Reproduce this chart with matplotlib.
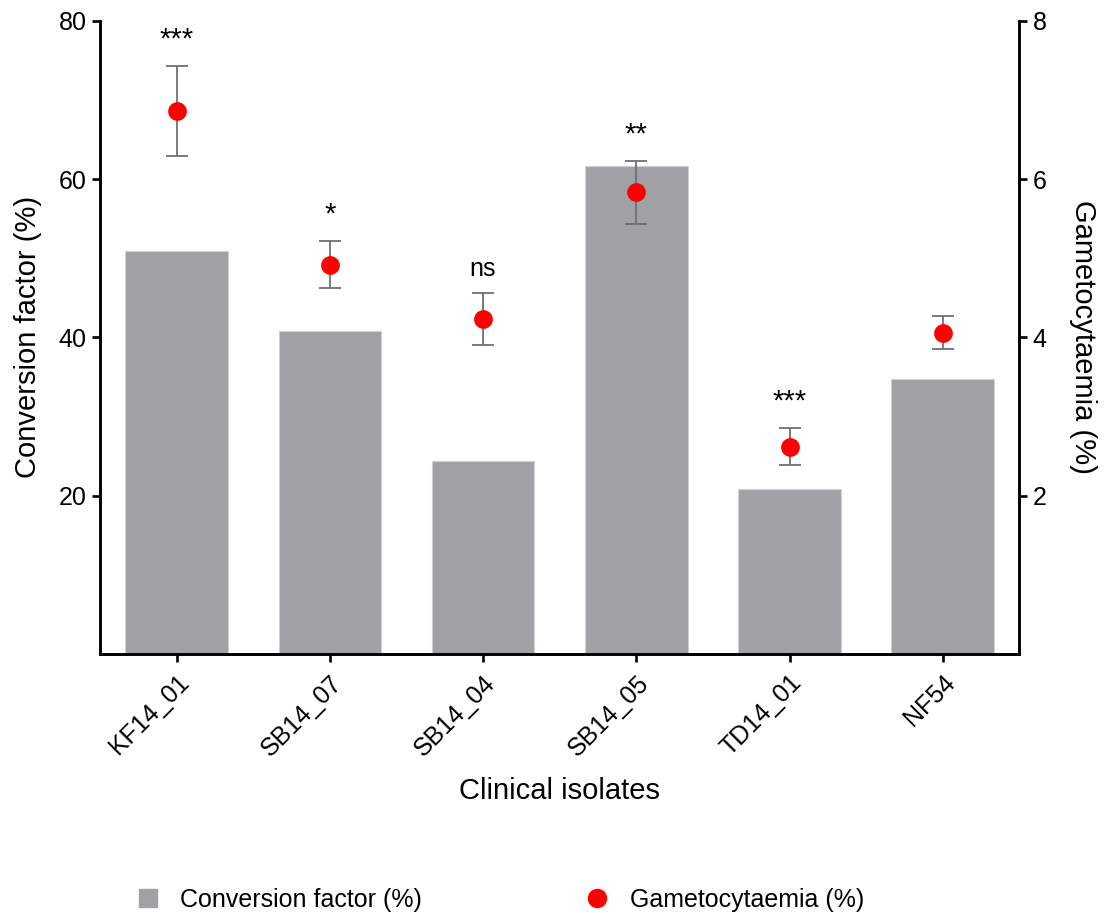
import matplotlib
matplotlib.use("Agg")
import matplotlib.pyplot as plt
from matplotlib.lines import Line2D

plt.rcParams['font.family'] = ['Liberation Sans', 'DejaVu Sans']

isolates = ['KF14_01', 'SB14_07', 'SB14_04', 'SB14_05', 'TD14_01', 'NF54']
conversion_factor = [50.9, 40.8, 24.4, 61.6, 20.8, 34.7]
gametocytaemia = [6.86, 4.92, 4.23, 5.83, 2.62, 4.06]
gametocytaemia_err = [0.57, 0.30, 0.33, 0.40, 0.235, 0.21]
significance = ['***', '*', 'ns', '**', '***', '']

bar_color = '#a1a1a5'
dot_color = '#ff0000'
err_color = '#707070'

fig = plt.figure(figsize=(11.05, 9.13), dpi=100)
ax = fig.add_axes([0.0905, 0.2837, 0.832, 0.6936])
ax2 = ax.twinx()

x = list(range(len(isolates)))
ax.bar(x, conversion_factor, width=0.67, color=bar_color,
       edgecolor='#d0d0d2', linewidth=0.8, zorder=1)

ax2.errorbar(x, gametocytaemia, yerr=gametocytaemia_err, fmt='none',
             ecolor=err_color, elinewidth=1.3, capsize=8, capthick=1.3, zorder=3)
ax2.plot(x, gametocytaemia, 'o', color=dot_color, markersize=13.5,
         markeredgewidth=0, zorder=4)

for xi, yi, ei, s in zip(x, gametocytaemia, gametocytaemia_err, significance):
    if s:
        size = 18 if s == 'ns' else 21
        ax2.annotate(s, (xi, yi + ei), xytext=(0, 9), textcoords='offset points',
                     ha='center', va='bottom', fontsize=size)

ax.set_xlim(-0.5, 5.5)
ax.set_ylim(0, 80)
ax2.set_ylim(0, 8)
ax.set_yticks([20, 40, 60, 80])
ax2.set_yticks([2, 4, 6, 8])
ax.set_xticks(x)
ax.set_xticklabels(isolates, rotation=45, ha='right', rotation_mode='anchor')

for a in (ax, ax2):
    a.spines['top'].set_visible(False)
    for side in ('left', 'right', 'bottom'):
        a.spines[side].set_linewidth(1.9)
    a.tick_params(width=1.9, length=6, labelsize=18, direction='out')
ax.tick_params(axis='x', pad=6)

ax.set_xlabel('Clinical isolates', fontsize=21, labelpad=12)
ax.set_ylabel('Conversion factor (%)', fontsize=21, labelpad=12)
ax2.set_ylabel('Gametocytaemia (%)', fontsize=21, rotation=270, labelpad=36)

handles = [
    Line2D([], [], marker='s', linestyle='none', color=bar_color, markersize=12.5),
    Line2D([], [], marker='o', linestyle='none', color=dot_color, markersize=13),
]
fig.legend(handles, ['Conversion factor (%)', 'Gametocytaemia (%)'],
           loc='center left', bbox_to_anchor=(0.102, 0.014), ncol=2, frameon=False,
           fontsize=18, columnspacing=6.5, handlelength=1.0, handletextpad=0.8)

fig.savefig('out.png', dpi=100)
